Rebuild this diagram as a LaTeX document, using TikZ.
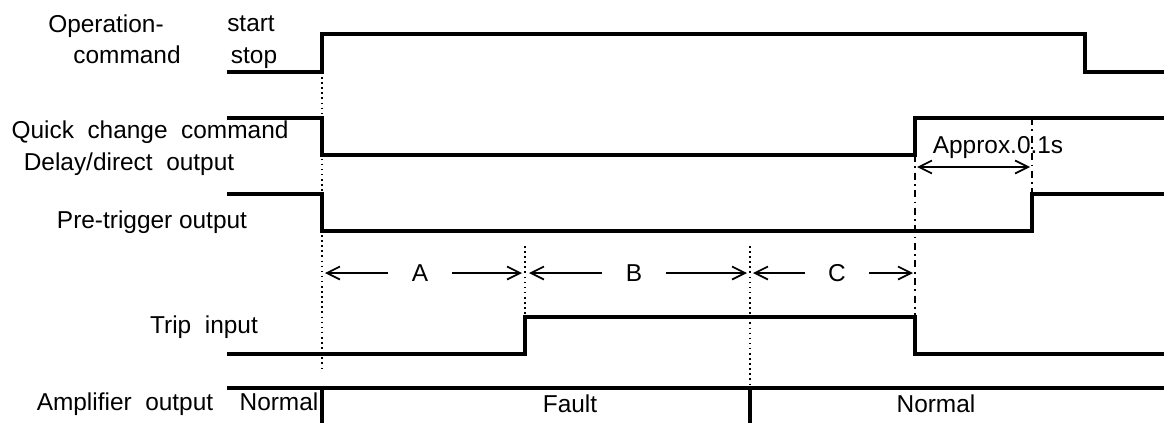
\documentclass[tikz,border=0pt]{standalone}
\usepackage{fontspec}
\setmainfont{Liberation Sans}
\usetikzlibrary{arrows.meta}

\tikzset{
  sig/.style={line width=2.1pt, line join=miter},
  guide/.style={dotted, line width=0.9pt},
  dashdot/.style={line width=0.8pt, dash pattern=on 4pt off 2.5pt on 1pt off 2.5pt},
  dimarr/.style={line width=1pt},
  txt/.style={font=\fontsize{13.9}{16}\selectfont, inner sep=0pt, anchor=base},
  gaplbl/.style={font=\fontsize{13.9}{16}\selectfont, inner sep=0pt, minimum width=1.28cm}
}

\begin{document}
\begin{tikzpicture}[x=0.02cm,y=-0.02cm,>={Straight Barb[length=2.6mm,width=2.6mm]}]
\useasboundingbox (0,0) rectangle (1164,423);

% guide lines
\draw[guide] (322,72) -- (322,372);
\draw[guide] (525,246) -- (525,317);
\draw[guide] (750,246) -- (750,388);
\draw[dashdot] (915,155) -- (915,317);
\draw[dashdot] (1032,118) -- (1032,194);

% signals
\draw[sig] (227,72) -- (322,72) -- (322,34) -- (1085,34) -- (1085,72) -- (1164,72);
\draw[sig] (227,118) -- (322,118) -- (322,155) -- (915,155) -- (915,118) -- (1164,118);
\draw[sig] (227,194) -- (322,194) -- (322,231) -- (1032,231) -- (1032,194) -- (1164,194);
\draw[sig] (227,354) -- (525,354) -- (525,317) -- (915,317) -- (915,354) -- (1164,354);
\draw[sig] (227,388) -- (1164,388);
\draw[sig] (322,388) -- (322,423);
\draw[sig] (750,388) -- (750,423);

% labels
\node[txt] (opA) at (106,32) {Operation-};
\node[txt] (opB) at (127,63) {command};
\node[txt] (start) at (251,31) {start};
\node[txt] (stop) at (254,63) {stop};
\node[txt] (qcA) at (150,138) {Quick\ \ change\ \ command};
\node[txt] (qcB) at (129,170) {Delay/direct\ \ output};
\node[txt] (pre) at (152,228) {Pre-trigger output};
\node[txt] (trip) at (204,333) {Trip\ \ input};
\node[txt] (amp) at (125,410) {Amplifier\ \ output};
\node[txt] (nrmA) at (279,410) {Normal};
\node[txt] (fault) at (570,412) {Fault};
\node[txt] (nrmB) at (936,412) {Normal};
\node[txt] (approx) at (998,153) {Approx.0.1s};

% intervals
\coordinate (a0) at (325,273);
\coordinate (a1) at (522,273);
\coordinate (b0) at (529,273);
\coordinate (b1) at (747,273);
\coordinate (c0) at (753,273);
\coordinate (c1) at (913,273);
\node[gaplbl] (A) at (420,273) {A};
\node[gaplbl] (B) at (634,273) {B};
\node[gaplbl] (C) at (837,273) {C};
\draw[dimarr,<-] (a0) -- (A.west);
\draw[dimarr,->] (A.east) -- (a1);
\draw[dimarr,<-] (b0) -- (B.west);
\draw[dimarr,->] (B.east) -- (b1);
\draw[dimarr,<-] (c0) -- (C.west);
\draw[dimarr,->] (C.east) -- (c1);

\coordinate (d0) at (917,167);
\coordinate (d1) at (1030,167);
\draw[dimarr,<->] (d0) -- (d1);
\end{tikzpicture}
\end{document}
